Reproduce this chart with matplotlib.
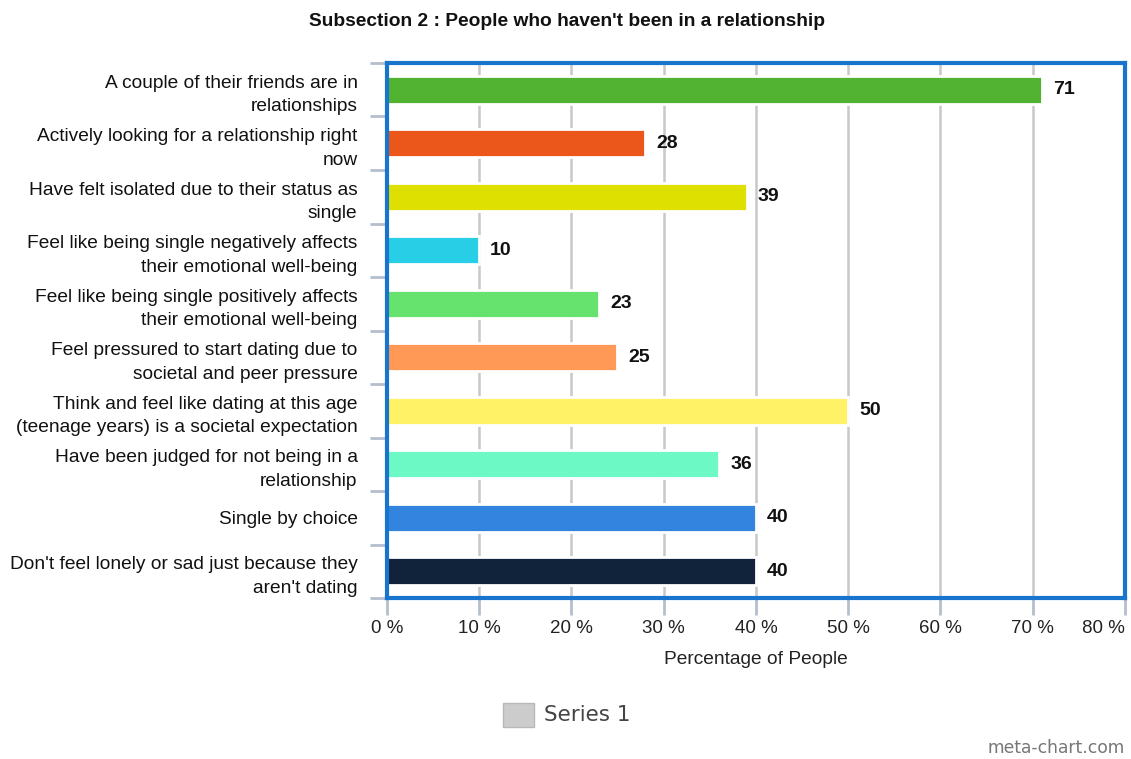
import matplotlib.pyplot as plt
from matplotlib.patches import Rectangle

# Data
categories = [
    "A couple of their friends are in\nrelationships",
    "Actively looking for a relationship right\nnow",
    "Have felt isolated due to their status as\nsingle",
    "Feel like being single negatively affects\ntheir emotional well-being",
    "Feel like being single positively affects\ntheir emotional well-being",
    "Feel pressured to start dating due to\nsocietal and peer pressure",
    "Think and feel like dating at this age\n(teenage years) is a societal expectation",
    "Have been judged for not being in a\nrelationship",
    "Single by choice",
    "Don't feel lonely or sad just because they\naren't dating",
]
values = [71, 28, 39, 10, 23, 25, 50, 36, 40, 40]
bar_colors = ['#52b332', '#eb561b', '#dde000', '#28cde6', '#66e36e',
              '#ff9955', '#fff266', '#6cf9c5', '#3384de', '#10233a']
x_ticks = [0, 10, 20, 30, 40, 50, 60, 70, 80]

BORDER_BLUE = '#1874cd'
GRID_GRAY = '#c8c8c8'
TICK_GRAY = '#b4bfcc'

plt.rcParams['font.family'] = ['Liberation Sans', 'DejaVu Sans']

fig = plt.figure(figsize=(11.31, 7.59), dpi=100)
ax = fig.add_axes([0.342, 0.2121, 0.6527, 0.7049])

n = len(categories)
ypos = list(range(n))
ax.barh(ypos, values, height=0.52, color=bar_colors, edgecolor='white',
        linewidth=2, zorder=3)

for y, v in zip(ypos, values):
    ax.text(v + 1.2, y, str(v), va='center', ha='left', fontsize=14,
            fontweight='bold', color='#111111', zorder=4)

ax.set_xlim(0, 80)
ax.set_ylim(n - 0.5, -0.5)

ax.set_xticks(x_ticks)
xl = ax.set_xticklabels([f"{t} %" for t in x_ticks], fontsize=13.5, color='#222222')
xl[-1].set_horizontalalignment('right')
ax.set_yticks(ypos)
ax.set_yticklabels(categories, fontsize=13.8, color='#111111', linespacing=1.5)
ax.set_yticks([i - 0.5 for i in range(n + 1)], minor=True)

ax.tick_params(axis='y', which='major', length=0, pad=21)
ax.tick_params(axis='y', which='minor', length=12.5, width=2, color=TICK_GRAY)
ax.tick_params(axis='x', which='major', length=12.5, width=2, color=TICK_GRAY, pad=3)

ax.grid(axis='x', color=GRID_GRAY, linewidth=1.8, zorder=1)
ax.set_axisbelow(True)

for s in ax.spines.values():
    s.set_color(BORDER_BLUE)
    s.set_linewidth(3)
    s.set_zorder(5)

ax.set_xlabel('Percentage of People', fontsize=13.8, color='#222222', labelpad=10.5)

fig.text(0.501, 0.972, "Subsection 2 : People who haven't been in a relationship",
         ha='center', va='center', fontsize=13.8, fontweight='bold', color='#111111')

# legend
fig.patches.append(Rectangle((503 / 1131, 1 - 727 / 759), 31 / 1131, 24 / 759,
                             transform=fig.transFigure, facecolor='#cccccc',
                             edgecolor='#b8b8b8', linewidth=1))
fig.text(544 / 1131, 1 - 715 / 759, 'Series 1', ha='left', va='center',
         fontsize=15.5, color='#444444', family='DejaVu Sans')

fig.text(1125 / 1131, 1 - 748 / 759, 'meta-chart.com', ha='right', va='center',
         fontsize=12.3, color='#777777', family='DejaVu Sans')

fig.savefig('out.png', dpi=100, facecolor='white')
